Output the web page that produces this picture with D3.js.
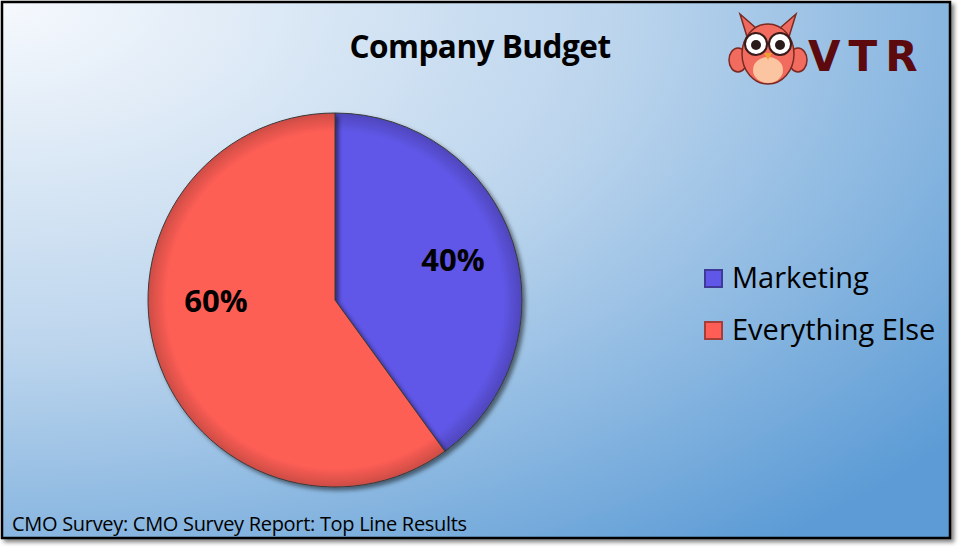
<!DOCTYPE html>
<html><head><meta charset="utf-8">
<script src="https://cdn.jsdelivr.net/npm/d3@7"></script>
<style>body{margin:0;background:#fff}svg{display:block}</style>
</head><body>
<svg id="c" width="965" height="547"></svg>
<script>
const categories = ["Marketing", "Everything Else"];
const values = [40, 60];
const labels = ["40%", "60%"];
const colors = ["#6057e8", "#fe5e55"];
const title = "Company Budget";
const source = "CMO Survey: CMO Survey Report: Top Line Results";
const FONT = "'Open Sans', sans-serif";

const svg = d3.select("#c");
const defs = svg.append("defs");
const bg = defs.append("radialGradient").attr("id","bg").attr("cx","0%").attr("cy","0%").attr("r","130%");
bg.append("stop").attr("offset","0%").attr("stop-color","#f6f9fd");
bg.append("stop").attr("offset","50%").attr("stop-color","#bcd5ed");
bg.append("stop").attr("offset","100%").attr("stop-color","#5b9bd5");
const sh = defs.append("filter").attr("id","sh").attr("x","-10%").attr("y","-10%").attr("width","120%").attr("height","120%");
sh.append("feDropShadow").attr("dx",3).attr("dy",3).attr("stdDeviation",2).attr("flood-opacity",0.5);

svg.append("rect").attr("x",2).attr("y",2).attr("width",948).attr("height",536)
  .attr("fill","url(#bg)").attr("stroke","#000").attr("stroke-width",2.5).attr("filter","url(#sh)");

svg.append("text").attr("x",480).attr("y",58).attr("text-anchor","middle")
  .attr("font-family",FONT).attr("font-weight","bold").attr("font-size",31.5).attr("letter-spacing",-0.5).text(title);

const cx=335, cy=300, r=187;
const pie = d3.pie().sort(null).value(d=>d)(values);
const arc = d3.arc().innerRadius(0).outerRadius(r);
colors.forEach((c,i)=>{
  const g = defs.append("radialGradient").attr("id","g"+i).attr("gradientUnits","userSpaceOnUse")
    .attr("cx",0).attr("cy",0).attr("r",r);
  g.append("stop").attr("offset","90%").attr("stop-color",c);
  g.append("stop").attr("offset","100%").attr("stop-color",d3.color(c).darker(0.6));
});
const pg = svg.append("g").attr("transform",`translate(${cx},${cy})`);
pg.selectAll("path").data(pie).join("path").attr("d",arc)
  .attr("fill",(d,i)=>`url(#g${i})`).attr("stroke","#3a3a3a").attr("stroke-width",1)
  .attr("filter","url(#sh)");
const lpos = [[118,-40],[-119,1]];
pg.selectAll("text.l").data(pie).join("text").attr("class","l")
  .attr("x",(d,i)=>lpos[i][0]).attr("y",(d,i)=>lpos[i][1]).attr("text-anchor","middle").attr("dy","0.35em")
  .attr("font-family",FONT).attr("font-weight","bold").attr("font-size",31)
  .text((d,i)=>labels[i]);

const lg = svg.append("g");
categories.forEach((c,i)=>{
  const y = 278 + i*52;
  lg.append("rect").attr("x",705).attr("y",y-8).attr("width",17).attr("height",17)
    .attr("fill",colors[i]).attr("stroke",d3.color(colors[i]).darker(1.2)).attr("stroke-width",2);
  lg.append("text").attr("x",732).attr("y",y).attr("dy","0.35em")
    .attr("font-family",FONT).attr("font-size",29).text(c);
});

svg.append("text").attr("x",12).attr("y",531).attr("font-family",FONT)
  .attr("font-size",20).attr("letter-spacing",-0.3).text(source);

// logo
const o = svg.append("g").attr("transform","translate(768,50)");
o.append("path").attr("d","M-28,-36 L-20,-10 L20,-10 L28,-36 L12,-22 L-12,-22 Z").attr("fill","#ee6a5e").attr("stroke","#7a2a22").attr("stroke-width",1.5);
o.append("ellipse").attr("cx",-30).attr("cy",10).attr("rx",9).attr("ry",12).attr("fill","#f26b5f").attr("stroke","#7a2a22").attr("stroke-width",1.5);
o.append("ellipse").attr("cx",30).attr("cy",10).attr("rx",9).attr("ry",12).attr("fill","#f26b5f").attr("stroke","#7a2a22").attr("stroke-width",1.5);
o.append("ellipse").attr("rx",26).attr("ry",30).attr("cy",4).attr("fill","#f26b5f").attr("stroke","#7a2a22").attr("stroke-width",1.5);
o.append("ellipse").attr("cy",20).attr("rx",15).attr("ry",13).attr("fill","#fcc5a2");
[-12,12].forEach(x=>{
  o.append("circle").attr("cx",x).attr("cy",-6).attr("r",11).attr("fill","#fff").attr("stroke","#3a1a1a").attr("stroke-width",2);
  o.append("circle").attr("cx",x).attr("cy",-5).attr("r",5).attr("fill","#2a1a1a");
});
o.append("path").attr("d","M-4,3 L4,3 L0,10 Z").attr("fill","#f0a030");
svg.append("text").attr("x",808).attr("y",71).attr("font-family","'DejaVu Sans', sans-serif")
  .attr("font-weight","bold").attr("font-size",42).attr("letter-spacing",8).attr("fill","#5c0a0e").text("VTR");
</script>
</body></html>
